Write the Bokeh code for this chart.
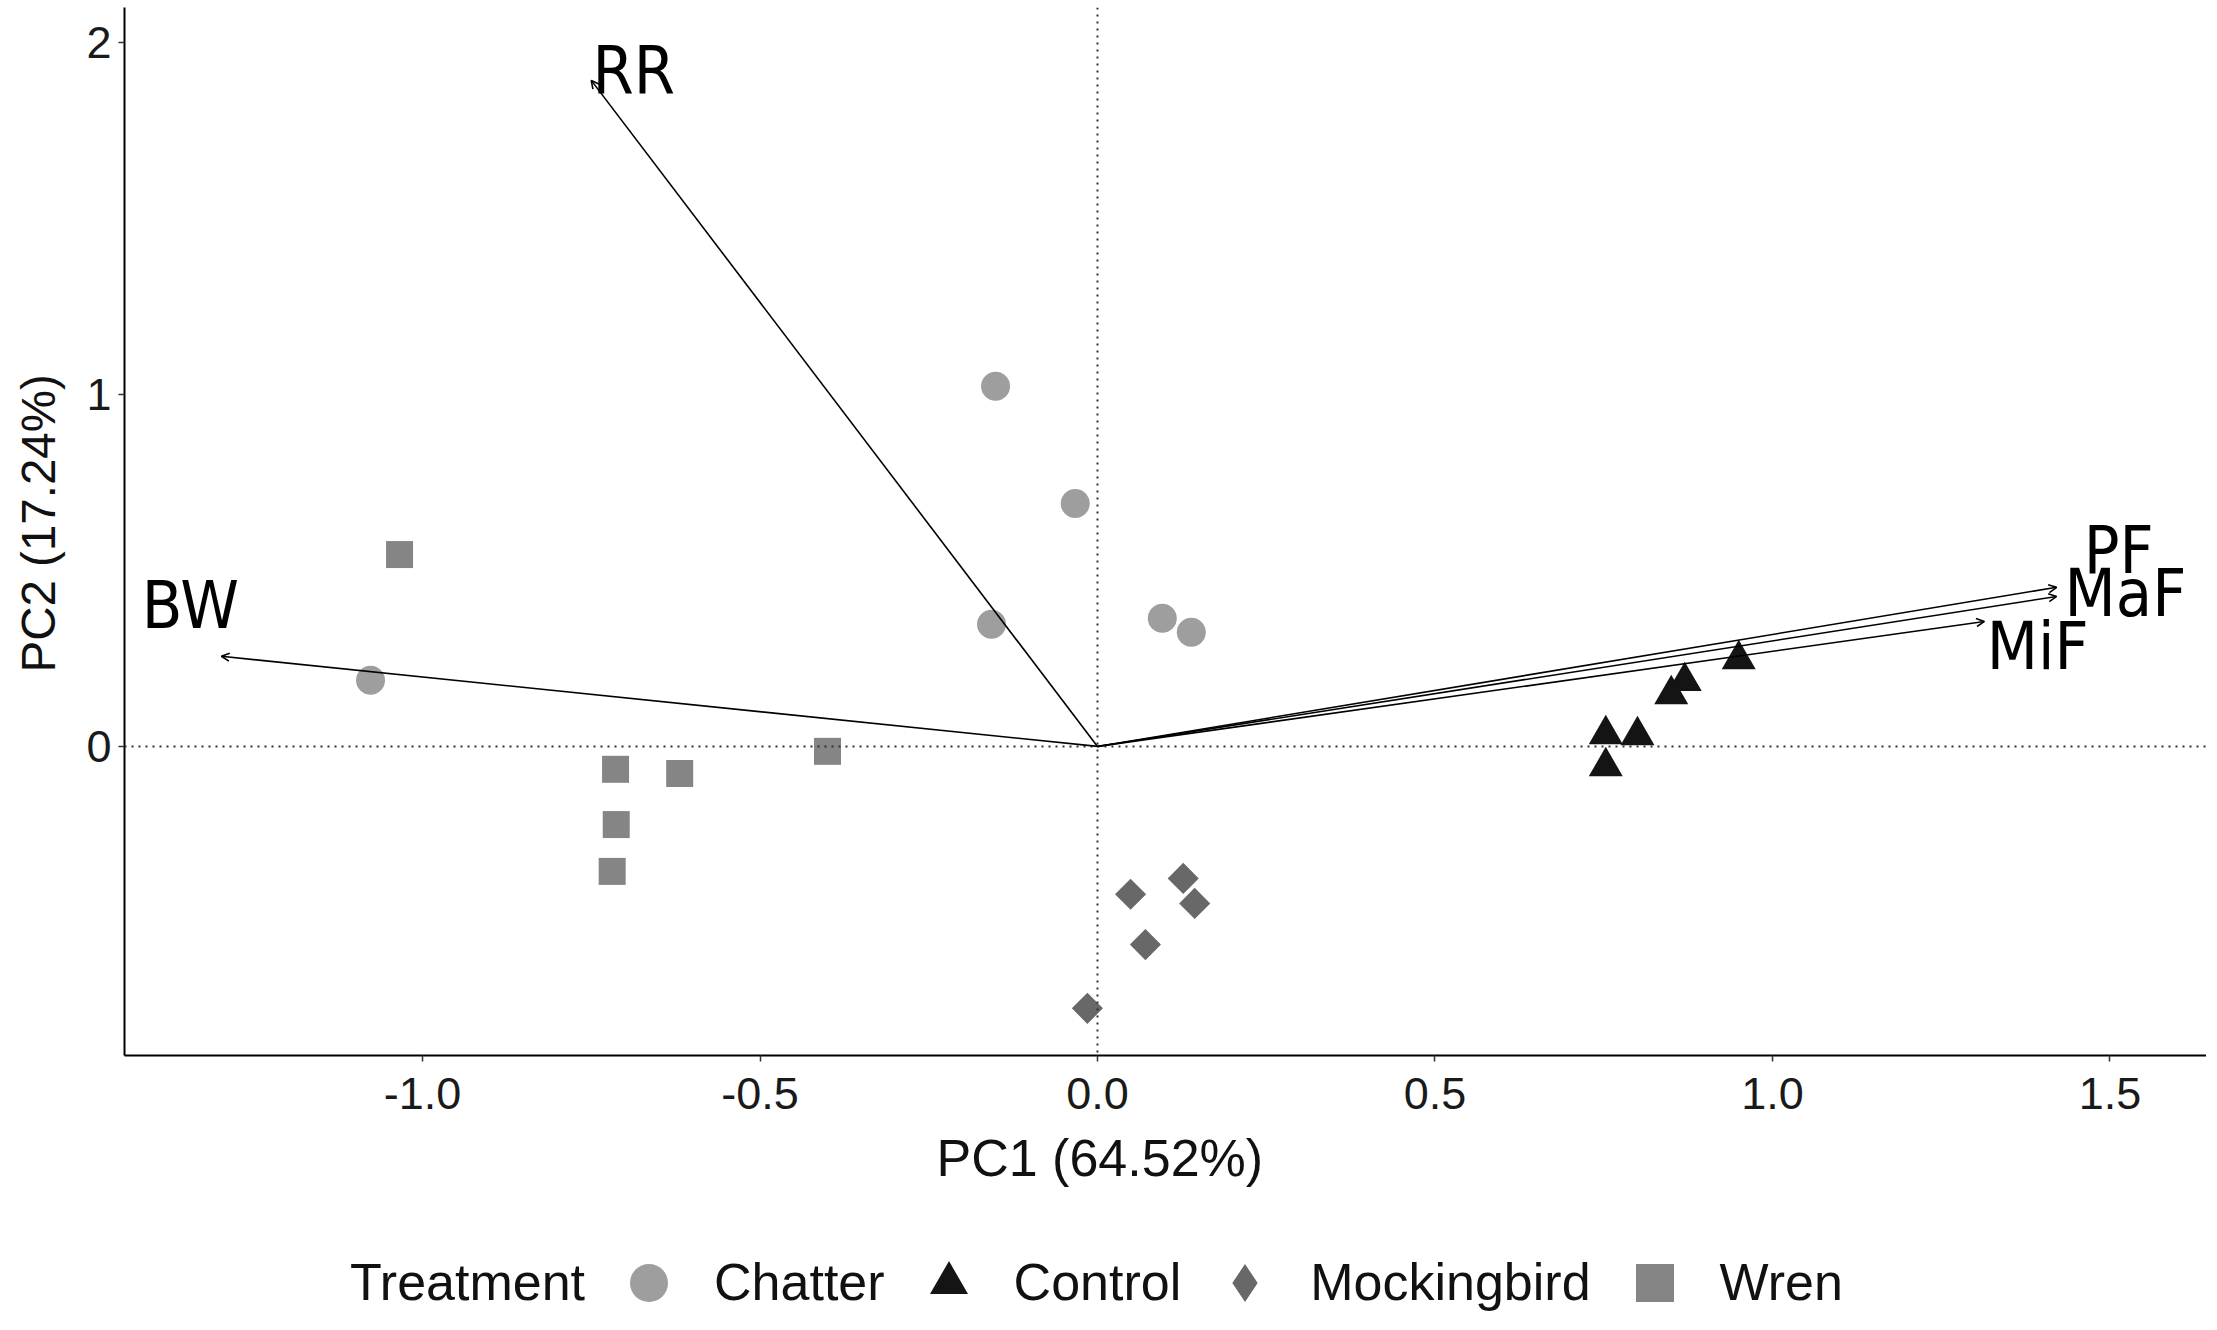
import numpy as np
from bokeh.plotting import figure
from bokeh.layouts import column
from bokeh.models import (ColumnDataSource, Range1d, FixedTicker, Span, Arrow, OpenHead,
                          Title, Legend, LegendItem)
from bokeh.core.properties import value
from bokeh.embed import file_html
from bokeh.resources import INLINE

# ---------------- data ----------------
treatments = ["Chatter", "Control", "Mockingbird", "Wren"]

chatter_x = [-0.151, -0.033, -0.157, 0.096, 0.139, -1.077]
chatter_y = [1.023, 0.690, 0.347, 0.364, 0.324, 0.188]

control_x = [0.950, 0.870, 0.850, 0.753, 0.800, 0.753]
control_y = [0.247, 0.185, 0.148, 0.034, 0.031, -0.057]

mock_x = [0.049, 0.127, 0.144, 0.071, -0.015]
mock_y = [-0.420, -0.375, -0.446, -0.563, -0.744]

wren_x = [-1.034, -0.714, -0.619, -0.400, -0.713, -0.719]
wren_y = [0.545, -0.065, -0.077, -0.014, -0.222, -0.355]

var_names = ["RR", "BW", "PF", "MaF", "MiF"]
load_x = [-0.750, -1.298, 1.421, 1.421, 1.314]
load_y = [1.892, 0.256, 0.452, 0.426, 0.355]
origin = [0.0, 0.0, 0.0, 0.0, 0.0]
label_x = [-0.687, -1.344, 1.513, 1.523, 1.393]
label_y = [1.921, 0.401, 0.557, 0.435, 0.284]

x_ticks = [-1.0, -0.5, 0.0, 0.5, 1.0, 1.5]
x_tick_labels = ["-1.0", "-0.5", "0.0", "0.5", "1.0", "1.5"]
y_ticks = [0, 1, 2]
y_tick_labels = ["0", "1", "2"]

x_title = "PC1 (64.52%)"
y_title = "PC2 (17.24%)"
legend_title = "Treatment"

colors = {"Chatter": "#9e9e9e", "Control": "#141414",
          "Mockingbird": "#686868", "Wren": "#858585"}

# ---------------- main figure ----------------
SANS = "Liberation Sans"
VAR_FONT = "DejaVu Sans Condensed"

p = figure(width=2206, height=1224, output_backend="svg", toolbar_location=None,
           x_range=Range1d(-1.4415, 1.643), y_range=Range1d(-0.878, 2.099),
           min_border_left=124, min_border_right=0, min_border_top=7,
           min_border_bottom=169)
p.outline_line_color = None
p.xgrid.visible = False
p.ygrid.visible = False
p.background_fill_color = "white"
p.border_fill_color = "white"

for ax in (p.xaxis[0], p.yaxis[0]):
    ax.axis_line_color = "black"
    ax.axis_line_width = 2
    ax.major_tick_line_color = "#333333"
    ax.major_tick_line_width = 1.5
    ax.major_tick_out = 6
    ax.major_tick_in = 0
    ax.minor_tick_line_color = None
    ax.major_label_text_font = SANS
    ax.major_label_text_font_size = "45px"
    ax.major_label_text_color = "#1a1a1a"

p.xaxis[0].ticker = FixedTicker(ticks=x_ticks)
p.xaxis[0].major_label_overrides = dict(zip(x_ticks, x_tick_labels))
p.xaxis[0].major_label_standoff = 16
p.xaxis[0].axis_label = None
p.yaxis[0].ticker = FixedTicker(ticks=y_ticks)
p.yaxis[0].major_label_overrides = dict(zip(y_ticks, y_tick_labels))
p.yaxis[0].major_label_standoff = 7
# blank axis label only to keep a gap between tick labels and the title
p.yaxis[0].axis_label = " "
p.yaxis[0].axis_label_text_font_size = "1px"
p.yaxis[0].axis_label_standoff = 13

# reference lines
p.add_layout(Span(location=0, dimension="width", line_dash="2 5",
                  line_color="#333333", line_width=2))
p.add_layout(Span(location=0, dimension="height", line_dash="2 5",
                  line_color="#333333", line_width=2))

# loading arrows
arrow_src = ColumnDataSource(dict(x0=origin, y0=origin, x1=load_x, y1=load_y))
p.add_layout(Arrow(end=OpenHead(size=8, line_width=1.6, line_color="black"),
                   x_start="x0", y_start="y0", x_end="x1", y_end="y1",
                   source=arrow_src, line_color="black", line_width=1.6))

lab_src = ColumnDataSource(dict(x=label_x, y=label_y, t=var_names))
p.text(x="x", y="y", text="t", source=lab_src, text_align="center",
       text_baseline="middle", text_font=value(VAR_FONT),
       text_font_size="66px", text_color="black")

# points
p.scatter(chatter_x, chatter_y, marker="circle", size=29,
          fill_color=colors["Chatter"], line_color=None)
p.scatter(control_x, control_y, marker="triangle", size=34,
          fill_color=colors["Control"], line_color=None)
p.scatter(mock_x, mock_y, marker="square", size=22, angle=np.pi / 4,
          fill_color=colors["Mockingbird"], line_color=None)
p.scatter(wren_x, wren_y, marker="square", size=27,
          fill_color=colors["Wren"], line_color=None)

# axis titles
p.add_layout(Title(text=y_title, align="left", offset=383, vertical_align="top",
                   standoff=0, text_font=SANS, text_font_size="47.5px",
                   text_font_style="normal", text_color="#111111"), "left")
p.add_layout(Title(text=x_title, align="left", offset=812, vertical_align="top",
                   standoff=34, text_font=SANS, text_font_size="52px",
                   text_font_style="normal", text_color="#111111"), "below")

# ---------------- legend strip ----------------
q = figure(width=2206, height=90, output_backend="svg", toolbar_location=None,
           x_range=Range1d(10, 11), y_range=Range1d(10, 11),
           x_axis_location=None, y_axis_location=None, min_border=0)
q.outline_line_color = None
q.xgrid.visible = False
q.ygrid.visible = False

# legend keys reuse the data arrays; the strip's ranges keep the points off view
l_head = q.scatter(wren_x[:1], wren_y[:1], marker="square", size=1,
                   fill_alpha=0, line_alpha=0)
l_ch = q.scatter(chatter_x, chatter_y, marker="circle", fill_color=colors["Chatter"],
                 line_color=None)
l_co = q.scatter(control_x, control_y, marker="triangle", fill_color=colors["Control"],
                 line_color=None)
l_mo = q.scatter(mock_x, mock_y, marker="diamond",
                 fill_color=colors["Mockingbird"], line_color=None)
l_wr = q.scatter(wren_x, wren_y, marker="square", fill_color=colors["Wren"],
                 line_color=None)

items = [LegendItem(label=legend_title, renderers=[l_head]),
         LegendItem(label=treatments[0], renderers=[l_ch]),
         LegendItem(label=treatments[1], renderers=[l_co]),
         LegendItem(label=treatments[2], renderers=[l_mo]),
         LegendItem(label=treatments[3], renderers=[l_wr])]
leg = Legend(items=items, location=(113, -15.5), orientation="horizontal",
             glyph_width=95, glyph_height=95, label_standoff=18, spacing=16,
             padding=0, margin=0, border_line_color=None, background_fill_alpha=0,
             label_text_font=SANS, label_text_font_size="52px",
             label_text_color="#111111")
q.add_layout(leg, "center")

layout = column(p, q, spacing=0)
open("out.html", "w").write(file_html(layout, INLINE))
